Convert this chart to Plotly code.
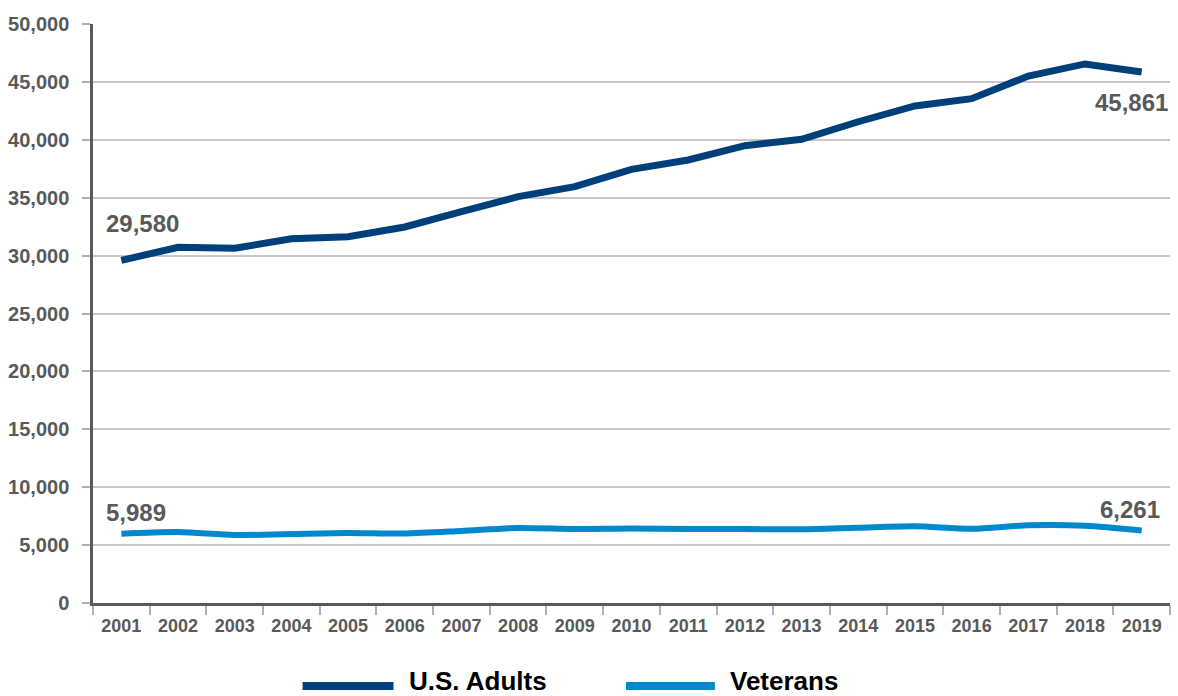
import plotly.graph_objects as go

# Annual counts, 2001-2019
years = [str(y) for y in range(2001, 2020)]
us_adults = [29580, 30720, 30630, 31460, 31630, 32470, 33790, 35090, 35950, 37450,
             38260, 39490, 40040, 41560, 42920, 43550, 45510, 46550, 45861]
veterans = [5989, 6130, 5870, 5960, 6045, 6000, 6220, 6480, 6390, 6430,
            6390, 6390, 6365, 6500, 6620, 6415, 6710, 6675, 6261]

y_ticks = list(range(0, 50001, 5000))
y_tick_text = [f"{v:,}" for v in y_ticks]

ADULT_COLOR = "#00407A"
VET_COLOR = "#0088CE"
TEXT_GRAY = "#58595B"
FONT = "Liberation Sans, Arial, sans-serif"

fig = go.Figure()
fig.add_trace(go.Scatter(x=years, y=us_adults, mode="lines", name="U.S. Adults",
                         line=dict(color=ADULT_COLOR, width=7), showlegend=False))
fig.add_trace(go.Scatter(x=years, y=veterans, mode="lines", name="Veterans",
                         line=dict(color=VET_COLOR, width=6, shape="spline", smoothing=0.8),
                         showlegend=False))

# End-point value labels (x given as category index)
first, last = 0, len(years) - 1
label_font = dict(family=FONT, size=24, color=TEXT_GRAY, weight="bold")
fig.add_annotation(x=first, y=us_adults[first], text=f"{us_adults[first]:,}", showarrow=False,
                   xanchor="left", yanchor="middle", xshift=-17, yshift=37, font=label_font)
fig.add_annotation(x=last, y=us_adults[last], text=f"{us_adults[last]:,}", showarrow=False,
                   xanchor="right", yanchor="middle", xshift=28, yshift=-31, font=label_font)
fig.add_annotation(x=first, y=veterans[first], text=f"{veterans[first]:,}", showarrow=False,
                   xanchor="left", yanchor="middle", xshift=-17, yshift=21, font=label_font)
fig.add_annotation(x=last, y=veterans[last], text=f"{veterans[last]:,}", showarrow=False,
                   xanchor="right", yanchor="middle", xshift=20, yshift=21, font=label_font)

# Hand-drawn legend below the plot
legend_font = dict(family=FONT, size=26, color="#000000", weight="bold")
legend_items = [("U.S. Adults", ADULT_COLOR, 0.1946, 0.2790, 0.2929),
                ("Veterans", VET_COLOR, 0.4949, 0.5774, 0.5904)]
for label, color, x0, x1, xt in legend_items:
    fig.add_shape(type="line", xref="paper", yref="paper", x0=x0, x1=x1,
                  y0=-0.1434, y1=-0.1434, line=dict(color=color, width=8))
    fig.add_annotation(xref="paper", yref="paper", x=xt, y=-0.135, text=label,
                       showarrow=False, xanchor="left", yanchor="middle",
                       borderpad=0, font=legend_font)

fig.update_layout(
    width=1178, height=696,
    margin=dict(l=91, r=8, t=24, b=93),
    paper_bgcolor="white", plot_bgcolor="white",
    font=dict(family=FONT, color=TEXT_GRAY),
)
fig.update_xaxes(
    type="category", range=[-0.5, len(years) - 0.5],
    tickson="boundaries", ticks="outside", ticklen=9,
    tickcolor="#B0B0B0", tickwidth=1.5,
    showline=True, linecolor="#5A5A5A", linewidth=3,
    showgrid=False, ticklabelstandoff=4, tickangle=0,
    tickfont=dict(family=FONT, size=18, color=TEXT_GRAY, weight="bold"),
)
fig.update_yaxes(
    range=[0, 50000], tickvals=y_ticks, ticktext=y_tick_text,
    ticks="outside", ticklen=8, tickcolor="#B0B0B0", tickwidth=1.5,
    showline=True, linecolor="#5A5A5A", linewidth=2.5,
    showgrid=True, gridcolor="#C8C8C8", gridwidth=1.5,
    zeroline=False, ticklabelstandoff=9,
    tickfont=dict(family=FONT, size=20, color=TEXT_GRAY, weight="bold"),
)

fig.write_html("out.html")
